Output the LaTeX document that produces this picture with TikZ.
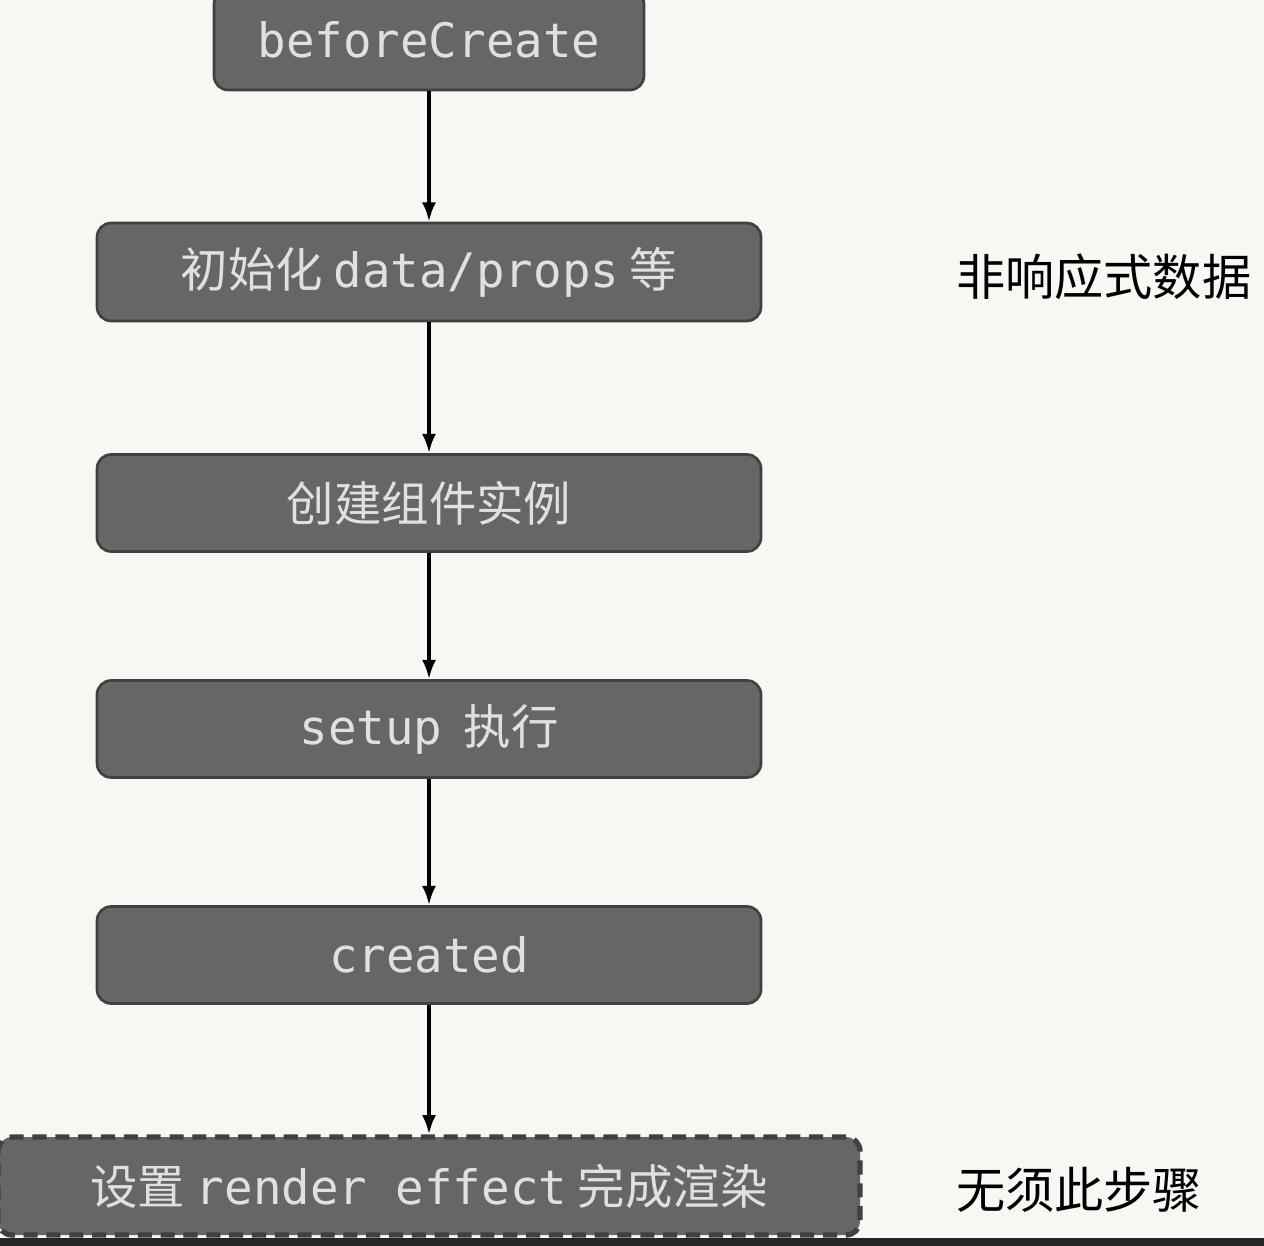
\documentclass[tikz,border=0pt]{standalone}
\usepackage{fontspec}
\setmainfont{Noto Sans CJK SC}
\newfontfamily\lat{DejaVu Sans Mono}
\usetikzlibrary{arrows.meta}
\begin{document}
\begin{tikzpicture}[x=0.02cm,y=-0.02cm,
  box/.style={draw=black!75,line width=1.5pt,fill=black!60,rounded corners=8pt,text=white!88!black,font=\fontsize{27}{30}\selectfont},
  arr/.style={-{Latex[length=11pt,width=8pt]},line width=2pt},
  side/.style={font=\fontsize{28}{32}\selectfont,anchor=west}]
\fill[fill={rgb,255:red,245;green,248;blue,243}] (0,0) rectangle (1264,1246);
\useasboundingbox (0,0) rectangle (1264,1246);
\node[box,minimum width=430*0.02cm,minimum height=100*0.02cm] (a) at (429,40) {\lat beforeCreate};
\node[box,minimum width=664*0.02cm,minimum height=98*0.02cm] (b) at (429,272) {初始化\ {\lat data/props}\ 等};
\node[box,minimum width=664*0.02cm,minimum height=97*0.02cm] (c) at (429,503) {创建组件实例};
\node[box,minimum width=664*0.02cm,minimum height=97*0.02cm] (d) at (429,729) {{\lat setup}\ \ 执行};
\node[box,minimum width=664*0.02cm,minimum height=97*0.02cm] (e) at (429,955) {\lat created};
\node[box,dashed,dash pattern=on 8pt off 5pt,line width=3pt,minimum width=862*0.02cm,minimum height=98*0.02cm] (f) at (429,1186) {设置\ {\lat render effect}\ 完成渲染};
\draw[arr] (a) -- (b);
\draw[arr] (b) -- (c);
\draw[arr] (c) -- (d);
\draw[arr] (d) -- (e);
\draw[arr] (e.south -| f.north) -- (f.north);
\node[side] (s1) at (950,277) {非响应式数据};
\node[side] (s2) at (950,1190) {无须此步骤};
\fill[black!85] (0,1238) rectangle (1264,1246);
\end{tikzpicture}
\end{document}
